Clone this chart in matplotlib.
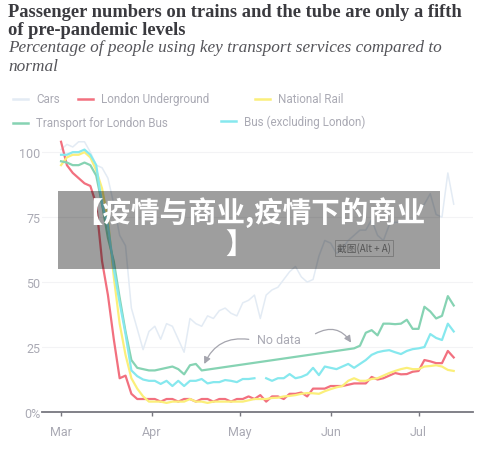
import numpy as np
import pandas as pd
import matplotlib
matplotlib.use('Agg')
from matplotlib import pyplot as plt
from matplotlib import dates as mdates
from matplotlib.lines import Line2D
from matplotlib.patches import Rectangle

# every 2nd day from 1 March 2020
days = pd.date_range('2020-03-01', '2020-07-13', freq='2D')

cars = [101, 103, 102, 104, 104, 100, 95, 94, 90, 80, 68, 64, 40, 32, 24,
        31, 33, 28, 34, 33, 28, 23, 36, 34, 33, 37, 36, 39, 40, 38, 37,
        42, 43, 45, 36, 45, 47, 48, 51, 54, 56, 52, 50, 51, 60, 66, 65,
        61, 63, 66, 68, 70, 70, 74, 68, 66, 72, 73, 73, 73, 74, 77, 80,
        84, 76, 75, 92, 80]

underground = [104, 95, 92, 90, 88, 87, 80, 58, 45, 28, 13, 14, 7, 5, 5,
               5, 5, 4, 5, 5, 4, 5, 5, 4, 5, 5, 4, 5, 5, 4, 5,
               5, 6, 5, 6.5, 4, 6, 6, 5, 7, 7, 7.5, 6, 9, 9, 9, 10,
               10, 10, 10.5, 11, 11, 11, 13.5, 12.5, 13, 14, 15, 14.5, 14.6, 15.5, 15.8, 20,
               19.5, 18.8, 18.8, 23.5, 21]

national_rail = [95, 98, 99, 99, 100, 98, 93, 86, 74, 52, 34, 22, 13, 9, 6,
                 4, 4, 4, 3.5, 4, 4, 4, 5, 4, 4, 3.5, 4, 4, 4, 4, 4,
                 4, 4.5, 5, 5, 5, 5.4, 5.5, 6, 6.2, 6.5, 7, 7.3, 7.2, 7, 8, 8.8,
                 9.5, 10, 12, 13, 12, 12, 12.7, 13, 14, 15, 15.8, 16.5, 17, 16.5, 16.5, 17.5,
                 17.7, 18, 17.5, 16.2, 15.8]

bus_excl_london = [99, 99, 100, 100, 101, 99, 95, 80, 72, 55, 42, 30, 16, 13.8, 12.5,
                   12, 12, 10.8, 12, 10, 12, 10, 12, 12, 12.7, 11, 11.5, 11.5, 12.3, 12, 11.5,
                   12.7, 12.7, 13, np.nan, 13, 12, 13, 13, 14.6, 13, 13.5, 14.5, 17, 14.2, 17.5, 17,
                   16.5, 17.5, 18.5, 17, 18.5, 20, 22, 23, 23.5, 23.8, 23, 22.3, 23.5, 24.2, 24.5, 25,
                   30, 28.5, 27.7, 34, 31]

# TfL bus has no data from late April to mid June
tfl_days = list(days[:25]) + list(days[50:])
tfl_bus = [96.5, 96, 95, 95, 96, 95, 91, 80, 67, 58, 44, 31, 20, 17, 16.5,
           16, 16, 16.5, 17, 17.5, 16.5, 14.5, 18, 18.5, 16,
           24.5, 25.5, 30.5, 31.5, 29.5, 34, 34, 33.8, 34, 35.5, 32, 32, 40.5,
           38.7, 36, 37, 44.6, 41]

month_ticks = ['2020-03-01', '2020-04-01', '2020-05-01', '2020-06-01', '2020-07-01']
month_labels = ['Mar', 'Apr', 'May', 'Jun', 'Jul']
y_ticks = [0, 25, 50, 75, 100]
y_labels = ['0%', '25', '50', '75', '100']

c_cars = '#e3ebf4'
c_tube = '#f2707f'
c_rail = '#fbef7a'
c_tfl = '#86d3b3'
c_bus = '#86e8ee'
c_text = '#aaaab4'

fig = plt.figure(figsize=(5, 4.64), dpi=100)
ax = fig.add_axes([0.084, 0.1099, 0.862, 0.588])

ax.plot(days, cars, color=c_cars, lw=1.1)
ax.plot(days, underground, color=c_tube, lw=1.6)
ax.plot(days, national_rail, color=c_rail, lw=1.6)
ax.plot(tfl_days, tfl_bus, color=c_tfl, lw=1.6)
ax.plot(days, bus_excl_london, color=c_bus, lw=1.6)

ax.set_ylim(0, 105)
ax.set_xlim(pd.Timestamp('2020-02-23 12:00'), pd.Timestamp('2020-07-19 14:00'))
ax.set_yticks(y_ticks)
ax.set_yticklabels(y_labels)
ax.set_xticks(pd.to_datetime(month_ticks))
ax.set_xticklabels(month_labels)

for s in ['top', 'right', 'left']:
    ax.spines[s].set_visible(False)
ax.spines['bottom'].set_color('#77777f')
ax.spines['bottom'].set_linewidth(1.3)
ax.grid(axis='y', color='#f3f3f5', lw=0.8)
ax.set_axisbelow(True)
ax.tick_params(axis='y', length=0, pad=1, labelsize=9, labelcolor=c_text)
ax.tick_params(axis='x', length=3, width=1, color='#77777f', pad=6, labelsize=9, labelcolor=c_text)
for lab in ax.get_xticklabels() + ax.get_yticklabels():
    lab.set_fontfamily('Roboto')

# "No data" annotation
ax.text(pd.Timestamp('2020-05-07'), 28, 'No data', fontsize=9, color=c_text,
        family='Roboto', va='center')
ax.annotate('', xy=(pd.Timestamp('2020-04-18 12:00'), 17.5),
            xytext=(pd.Timestamp('2020-05-05'), 27.8),
            arrowprops=dict(arrowstyle='-|>', color='#a5a5ae', lw=0.9,
                            connectionstyle='arc3,rad=0.4', mutation_scale=10))
ax.annotate('', xy=(pd.Timestamp('2020-06-08 12:00'), 25.8),
            xytext=(pd.Timestamp('2020-05-26'), 29.6),
            arrowprops=dict(arrowstyle='-|>', color='#a5a5ae', lw=0.9,
                            connectionstyle='arc3,rad=-0.5', mutation_scale=10))

# titles
fig.text(0.016, 0.973, 'Passenger numbers on trains and the tube are only a fifth',
         family='Liberation Serif', weight='bold', fontsize=13.3, color='#3a3a3f', va='center')
fig.text(0.016, 0.935, 'of pre-pandemic levels',
         family='Liberation Serif', weight='bold', fontsize=13.3, color='#3a3a3f', va='center')
fig.text(0.016, 0.897, 'Percentage of people using key transport services compared to',
         family='Liberation Serif', style='italic', fontsize=12.4, color='#55555a', va='center')
fig.text(0.016, 0.855, 'normal',
         family='Liberation Serif', style='italic', fontsize=12.4, color='#55555a', va='center')

# legend
legend_items = [('Cars', c_cars, 13, 100), ('London Underground', c_tube, 78, 100),
                ('National Rail', c_rail, 255, 100),
                ('Transport for London Bus', c_tfl, 13, 124),
                ('Bus (excluding London)', c_bus, 221, 122)]
for name, col, px, py in legend_items:
    yf = 1 - py / 464
    fig.add_artist(Line2D([px / 500, (px + 15) / 500], [yf, yf], color=col, lw=1.8))
    fig.text((px + 23) / 500, yf, name, family='Roboto', fontsize=8.4, color=c_text, va='center')

# grey overlay banner
fig.add_artist(Rectangle((58 / 500, 1 - 270 / 464), 382 / 500, 78 / 464,
                         facecolor='black', alpha=0.38, edgecolor='none'))
fig.text(250 / 500, 1 - 213 / 464, '【疫情与商业,疫情下的商业', family=['Noto Sans CJK SC', 'DejaVu Sans'],
         weight='heavy', fontsize=20.5, color='white', ha='center', va='center')
fig.text(240 / 500, 1 - 245 / 464, '】', family=['Noto Sans CJK SC', 'DejaVu Sans'],
         weight='heavy', fontsize=20.5, color='white', ha='center', va='center')
fig.text(364 / 500, 1 - 249 / 464, '截图(Alt + A)', family=['Noto Sans CJK SC', 'DejaVu Sans'],
         fontsize=7, color='#555555', ha='center', va='center',
         bbox=dict(boxstyle='square,pad=0.25', facecolor='none', edgecolor='#777777', lw=0.6))

fig.savefig('out.png', dpi=100)
